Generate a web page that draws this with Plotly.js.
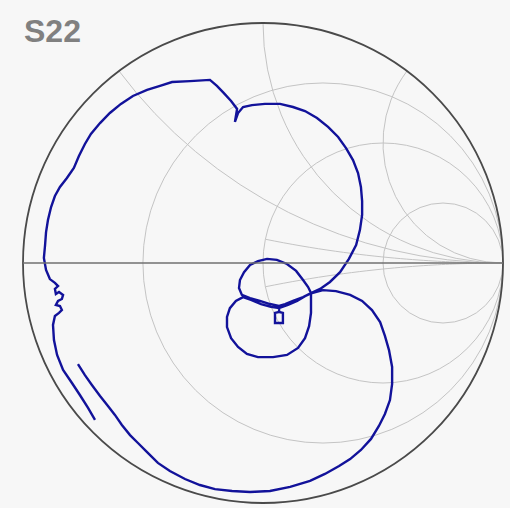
<!DOCTYPE html>
<html>
<head>
<meta charset="utf-8">
<script src="https://cdn.plot.ly/plotly-3.0.1.min.js"></script>
<style>html,body{margin:0;padding:0;background:#f7f7f7;}#chart{width:510px;height:508px;}</style>
</head>
<body>
<div id="chart"></div>
<script>
const s22Re = [
 -0.700,-0.729,-0.763,-0.796,-0.833,-0.858,-0.871,-0.875,-0.867,
 -0.850,-0.838,-0.846,-0.863,-0.854,-0.838,-0.833,-0.850,-0.863,-0.867,-0.854,-0.867,-0.888,
 -0.904,-0.913,-0.908,-0.904,-0.896,-0.883,-0.867,-0.846,-0.817,-0.788,-0.767,-0.742,-0.717,
 -0.679,-0.638,-0.592,-0.542,-0.483,-0.429,-0.379,-0.304,-0.221,-0.192,-0.163,-0.133,-0.108,
 -0.117,-0.104,-0.083,-0.046,0.008,0.071,0.125,0.175,0.225,0.271,0.313,0.346,0.375,0.396,
 0.408,0.413,0.413,0.404,0.388,0.358,0.321,0.279,0.238,0.200,
 0.167,0.125,0.092,0.067,
 0.067,0.050,0.050,0.083,0.083,0.067,0.067,
 0.029,-0.013,-0.054,-0.088,
 -0.100,-0.096,-0.079,-0.054,-0.021,0.017,0.058,0.100,0.138,0.167,0.188,0.200,
 0.200,0.200,0.192,0.175,0.146,0.100,0.042,-0.021,-0.067,-0.104,-0.133,-0.150,-0.150,-0.138,-0.113,-0.083,
 -0.050,-0.008,0.033,0.067,0.104,0.142,0.175,0.204,
 0.250,0.304,0.363,0.413,0.454,0.488,0.508,0.525,0.538,0.538,0.529,0.508,0.483,0.450,0.408,
 0.363,0.317,0.258,0.196,0.113,0.029,-0.054,-0.129,-0.200,-0.263,-0.325,-0.388,-0.438,-0.483,
 -0.521,-0.554,-0.588,-0.617,-0.646,-0.679,-0.713,-0.742,-0.771
];
const s22Im = [
 -0.654,-0.604,-0.550,-0.500,-0.446,-0.383,-0.321,-0.258,-0.221,
 -0.208,-0.196,-0.179,-0.175,-0.158,-0.150,-0.133,-0.121,-0.129,-0.108,-0.096,-0.083,-0.067,
 -0.029,0.021,0.075,0.129,0.179,0.233,0.279,0.317,0.354,0.396,0.446,0.496,0.538,
 0.583,0.625,0.663,0.696,0.721,0.738,0.754,0.758,0.763,0.738,0.708,0.675,0.642,
 0.588,0.625,0.650,0.658,0.663,0.663,0.650,0.633,0.604,0.567,0.525,0.479,0.429,0.375,
 0.317,0.258,0.200,0.138,0.075,0.017,-0.038,-0.079,-0.108,-0.125,
 -0.142,-0.158,-0.171,-0.179,
 -0.204,-0.208,-0.250,-0.250,-0.208,-0.204,-0.179,
 -0.171,-0.158,-0.146,-0.133,
 -0.104,-0.071,-0.038,-0.008,0.008,0.017,0.013,-0.004,-0.033,-0.071,-0.100,-0.125,
 -0.158,-0.208,-0.263,-0.313,-0.354,-0.383,-0.392,-0.392,-0.379,-0.350,-0.313,-0.267,-0.225,-0.188,-0.158,-0.142,
 -0.154,-0.171,-0.183,-0.188,-0.175,-0.158,-0.138,-0.125,
 -0.113,-0.117,-0.133,-0.158,-0.196,-0.246,-0.304,-0.363,-0.433,-0.504,-0.571,-0.629,-0.679,-0.733,-0.779,
 -0.817,-0.846,-0.879,-0.908,-0.933,-0.950,-0.954,-0.950,-0.942,-0.925,-0.900,-0.867,-0.833,-0.788,
 -0.750,-0.717,-0.675,-0.633,-0.596,-0.554,-0.508,-0.467,-0.421
];
// Smith chart grid values
const resistanceTicks = [0.333, 1, 3];
const reactanceTicks = [0.5, 1, 2];
// small reactance arcs drawn only from the r = 1 circle to the right edge
const shortReactance = [0.2, -0.2];
const shortReactanceStart = 1;
const chartTitle = 'S22';

// Convert reflection coefficient to normalized impedance for scattersmith
const zRe = [], zIm = [];
for (let i = 0; i < s22Re.length; i++) {
  const gr = s22Re[i], gi = s22Im[i];
  const den = (1 - gr) * (1 - gr) + gi * gi;
  zRe.push((1 - gr * gr - gi * gi) / den);
  zIm.push(2 * gi / den);
}

const gridColor = '#c4c4c4';
const traces = [];
shortReactance.forEach(function (xv) {
  const re = [], im = [];
  for (let k = 0; k <= 120; k++) {
    re.push(shortReactanceStart * Math.pow(10, k * 4 / 120));
    im.push(xv);
  }
  traces.push({
    type: 'scattersmith', real: re, imag: im, mode: 'lines',
    line: {color: gridColor, width: 1}, hoverinfo: 'skip', showlegend: false
  });
});

traces.push({
  type: 'scattersmith',
  real: zRe,
  imag: zIm,
  mode: 'lines',
  line: {color: '#12129a', width: 2.4},
  hoverinfo: 'skip',
  showlegend: false
});

const layout = {
  width: 510, height: 508,
  margin: {l: 23, r: 7, t: 23, b: 5},
  paper_bgcolor: '#f7f7f7',
  showlegend: false,
  title: {
    text: '<b>' + chartTitle + '</b>',
    x: 24 / 510, xanchor: 'left', xref: 'container',
    y: 1 - 31 / 508, yanchor: 'middle', yref: 'container',
    font: {family: 'Liberation Sans, Arial, sans-serif', size: 32, color: '#808080'}
  },
  smith: {
    domain: {x: [0, 1], y: [0, 1]},
    bgcolor: '#f7f7f7',
    realaxis: {
      tickvals: resistanceTicks,
      showticklabels: false, ticks: '',
      gridcolor: gridColor, gridwidth: 1,
      showline: true, linecolor: '#707070', linewidth: 1.5
    },
    imaginaryaxis: {
      tickvals: reactanceTicks,
      showticklabels: false, ticks: '',
      gridcolor: gridColor, gridwidth: 1,
      showline: true, linecolor: '#4a4a4a', linewidth: 1.8
    }
  }
};

Plotly.newPlot('chart', traces, layout, {displayModeBar: false, staticPlot: true});
</script>
</body>
</html>
